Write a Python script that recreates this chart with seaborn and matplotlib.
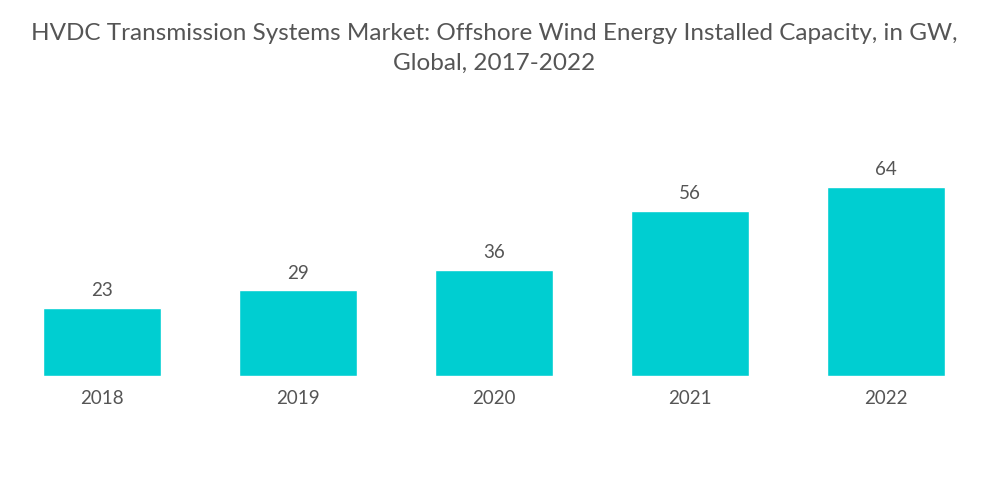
import matplotlib
matplotlib.use('Agg')
import matplotlib.pyplot as plt
import seaborn as sns
import pandas as pd

# ========== Data ==========
years = ['2018', '2019', '2020', '2021', '2022']
capacity_gw = [23, 29, 36, 56, 64]
title = ('HVDC Transmission Systems Market: Offshore Wind Energy Installed Capacity, in GW,\n'
         'Global, 2017-2022')

BAR_COLOR = '#00CED1'
TEXT_COLOR = '#555555'

sns.set_theme(style='white')
plt.rcParams['font.family'] = ['Lato', 'DejaVu Sans']

df = pd.DataFrame({'year': years, 'capacity': capacity_gw})

fig = plt.figure(figsize=(10, 5.04), dpi=100)
ax = fig.add_axes([0.004, 0.254, 0.98, 0.468])

sns.barplot(data=df, x='year', y='capacity', color=BAR_COLOR, width=0.6,
            saturation=1, ax=ax)

ax.set_xlim(-0.5, 4.5)
ax.set_ylim(0, 80)
ax.set_xlabel('')
ax.set_ylabel('')
ax.set_yticks([])
ax.tick_params(axis='x', length=0, pad=10, labelsize=13.5, labelcolor=TEXT_COLOR)
for s in ax.spines.values():
    s.set_visible(False)

for i, v in enumerate(capacity_gw):
    ax.text(i, v + 3, str(v), ha='center', va='bottom', fontsize=13.5, color=TEXT_COLOR)

fig.text(0.494, 1 - 23 / 504, title, ha='center', va='top', fontsize=17.5,
         color=TEXT_COLOR, linespacing=1.5)

fig.savefig('out.png', dpi=100)
